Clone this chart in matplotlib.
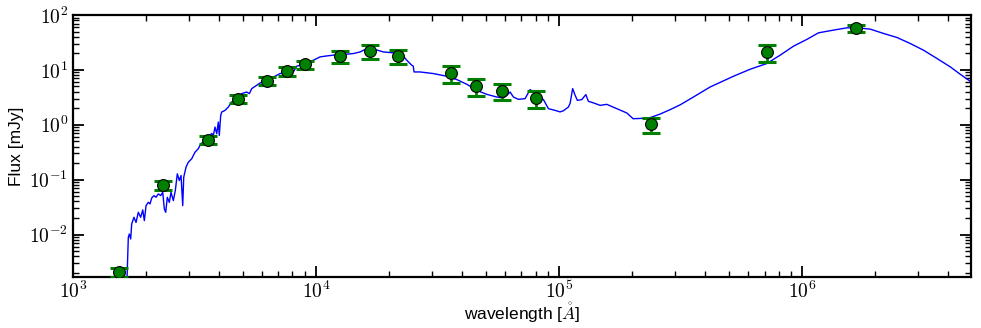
import matplotlib
matplotlib.use('Agg')
import matplotlib.pyplot as plt
from matplotlib.ticker import FuncFormatter
import numpy as np

plt.rcParams['mathtext.fontset'] = 'cm'
plt.rcParams['font.family'] = ['Liberation Sans', 'DejaVu Sans']

# ---- photometry (Angstrom, mJy) ----
wl_obs = [1550, 2355, 3610, 4790, 6270, 7570, 9020, 12500, 16600, 21700,
          36000, 45400, 58000, 80700, 238000, 720000, 1.66e6]
flux_obs = [0.0021, 0.081, 0.53, 3.0, 6.4, 9.5, 12.7, 17.8, 22.2, 18.0,
            8.8, 5.1, 4.2, 3.08, 1.03, 21.1, 57.0]
err_obs = [0.0004, 0.015, 0.09, 0.5, 1.1, 1.6, 2.1, 4.6, 6.1, 4.9,
           3.1, 1.7, 1.4, 1.04, 0.32, 7.1, 8.0]

# ---- model SED (Angstrom, mJy) ----
wl_model = [1663, 1689, 1705, 1727, 1744, 1782, 1817, 1857, 1899, 1936,
            1966, 1998, 2042, 2075, 2109, 2154, 2196, 2244, 2296, 2340,
            2376, 2407, 2444, 2490, 2531, 2587, 2636, 2687, 2738, 2783,
            2828, 2855, 2917, 2982, 3079, 3177, 3278, 3354, 3438, 3550,
            3723, 3780, 3841, 3903, 3962, 3999, 4053, 4092, 4222, 4356,
            4499, 4642, 4788, 4945, 5186, 5316, 5438, 5702, 5977, 6267,
            6571, 6781, 7110, 7456, 7816, 8065, 8329, 8594, 9156, 9747,
            10390, 11070, 11780, 12560, 13380, 14240, 15180, 15910, 16680, 17490,
            18920, 20800, 22530, 23620, 24760, 25100, 25310, 26790, 30390, 34510,
            37930, 41710, 45850, 50410, 55420, 58990, 60930, 62860, 64850, 68010,
            72460, 75970, 78410, 82180, 86170, 90370, 96280, 100900, 104100, 109200,
            111000, 113700, 116400, 118900, 124000, 128800, 132000, 138400, 147500, 157100,
            172800, 190000, 201600, 218900, 236900, 260400, 286300, 314800, 357000, 418200,
            521600, 611000, 715500, 812100, 920900, 1.045e6, 1.167e6, 1.345e6, 1.528e6, 1.680e6,
            1.905e6, 2.161e6, 2.453e6, 2.782e6, 3.157e6, 3.584e6, 4.065e6, 4.469e6, 4.961e6]
flux_model = [0.001, 0.00885, 0.0102, 0.00828, 0.0156, 0.0206, 0.0166, 0.0254, 0.0206, 0.0281,
              0.0179, 0.0336, 0.0386, 0.0361, 0.0465, 0.0512, 0.0477, 0.0550, 0.0512, 0.0589,
              0.0292, 0.0254, 0.0477, 0.0386, 0.0589, 0.0415, 0.0632, 0.1276, 0.0964, 0.119,
              0.0336, 0.1107, 0.1686, 0.208, 0.240, 0.317, 0.366, 0.451, 0.483, 0.557,
              0.697, 0.640, 0.908, 0.687, 1.12, 0.640, 1.49, 1.71, 1.83, 2.11,
              2.60, 3.00, 3.31, 3.70, 3.96, 3.70, 4.57, 5.25, 6.04, 6.68,
              7.26, 7.67, 8.59, 8.81, 9.88, 9.19, 11.7, 12.2, 13.1, 15.0,
              17.3, 18.0, 18.6, 19.9, 19.4, 19.9, 21.3, 23.6, 24.6, 23.6,
              21.3, 20.5, 19.4, 15.0, 12.2, 11.8, 9.19, 9.19, 8.59, 7.67,
              6.68, 5.48, 4.25, 3.59, 3.21, 3.08, 3.45, 3.96, 3.21, 2.91,
              3.00, 4.38, 3.96, 3.21, 2.89, 1.97, 1.83, 1.72, 1.80, 2.11,
              2.46, 4.57, 3.45, 2.79, 2.88, 3.55, 2.68, 2.51, 2.26, 2.36,
              1.97, 1.64, 1.29, 1.31, 1.35, 1.57, 1.89, 2.31, 3.21, 4.89,
              7.67, 10.3, 13.1, 18.6, 27.1, 36.0, 47.5, 53.2, 58.6, 58.6,
              55.5, 46.3, 39.1, 30.4, 22.9, 16.2, 11.4, 8.35, 6.04]

fig = plt.figure(figsize=(9.81, 3.28), dpi=100)
ax = fig.add_axes([0.0744, 0.1555, 0.9154, 0.7985])

ax.plot(wl_model, flux_model, color='b', lw=1.0, zorder=2)
# error bars first, markers on top (separately so the caps keep their thickness)
ax.errorbar(wl_obs, flux_obs, yerr=err_obs, fmt='none', ecolor='green',
            elinewidth=2, capsize=6.5, capthick=2.2, zorder=3)
ax.plot(wl_obs, flux_obs, 'o', color='green', mec='black', mew=0.8,
        ms=8.5, zorder=4)

ax.set_xscale('log')
ax.set_yscale('log')
ax.set_xlim(1e3, 4.95e6)
ax.set_ylim(1.68e-3, 1e2)

# tick labels as 10^n in computer modern
pow10 = FuncFormatter(lambda v, pos: r'$10^{%d}$' % round(np.log10(v)))
ax.xaxis.set_major_formatter(pow10)
ax.yaxis.set_major_formatter(pow10)

ax.set_xlabel(r'wavelength [$\mathring{A}$]', fontsize=12.5, labelpad=-1)
ax.set_ylabel('Flux [mJy]', fontsize=12.5, labelpad=4)

ax.tick_params(which='both', direction='in', top=True, right=True, labelsize=14)
ax.tick_params(axis='x', which='major', pad=3)
ax.tick_params(which='major', length=8, width=1.3)
ax.tick_params(which='minor', length=4.5, width=1.0)
for s in ax.spines.values():
    s.set_linewidth(1.6)

fig.savefig('out.png', dpi=100)
